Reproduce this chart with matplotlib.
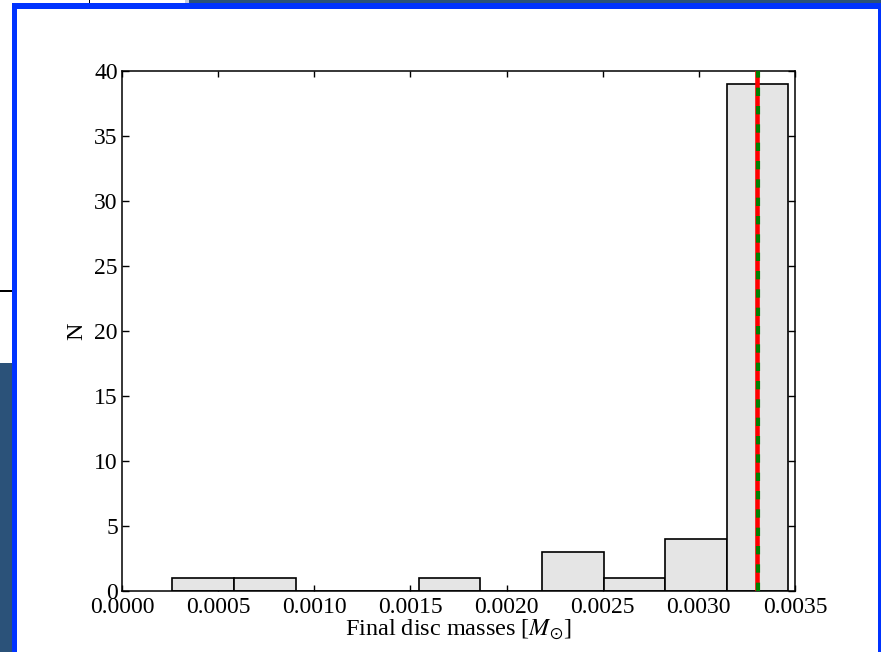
import numpy as np
import matplotlib
matplotlib.use("Agg")
import matplotlib.pyplot as plt
from matplotlib.patches import Rectangle

# Histogram of final disc masses (solar masses)
bin_edges = [0.0002616, 0.0005820, 0.0009024, 0.0012228, 0.0015432,
             0.0018636, 0.0021840, 0.0025044, 0.0028248, 0.0031452, 0.0034656]
counts = [1, 1, 0, 0, 1, 0, 3, 1, 4, 39]

mean_mass = 0.0033000
median_mass = 0.0033078

xticks = [0.0000, 0.0005, 0.0010, 0.0015, 0.0020, 0.0025, 0.0030, 0.0035]
yticks = [0, 5, 10, 15, 20, 25, 30, 35, 40]

plt.rcParams['font.family'] = ['Liberation Serif', 'DejaVu Serif']
plt.rcParams['mathtext.fontset'] = 'stix'

W, H = 881, 652
fig = plt.figure(figsize=(W / 100, H / 100), dpi=100)
fig.patch.set_facecolor('white')


def px_rect(x0, y0, x1, y1, color, z=0):
    """Rectangle given in pixel coords measured from the top-left corner."""
    r = Rectangle((x0 / W, 1 - y1 / H), (x1 - x0) / W, (y1 - y0) / H,
                  transform=fig.transFigure, facecolor=color,
                  edgecolor='none', zorder=z)
    fig.add_artist(r)


# window frame around the plot
dark = '#2b5279'
blue = '#0033ff'
px_rect(189, 0, W, 3, dark)
px_rect(0, 363, 12, H, dark)
px_rect(88.5, 0, 89.7, 3, 'black')
px_rect(0, 290.5, 12, 291.8, 'black')
px_rect(185, 0, 189, 3, '#c8cde0')
px_rect(12, 3, W, 8.5, blue)
px_rect(12, 3, 17, H, blue)
px_rect(877.5, 3, W, H, blue)

ax = fig.add_axes([122 / W, 1 - 591 / H, (795 - 122) / W, (591 - 71) / H])

widths = np.diff(bin_edges)
ax.bar(bin_edges[:-1], counts, width=widths, align='edge',
       facecolor='#e5e5e5', edgecolor='black', linewidth=1.2, zorder=2)

ax.axvline(mean_mass, color='red', linewidth=3.3, zorder=3)
ax.axvline(median_mass, color='green', linewidth=3.0, zorder=4,
           dashes=(2.0, 2.4))

ax.set_xlim(0, 0.0035)
ax.set_ylim(0, 40)
ax.set_xticks(xticks)
ax.set_xticklabels([f"{v:.4f}" for v in xticks])
ax.set_yticks(yticks)

ax.tick_params(axis='both', which='major', direction='in', top=True,
               right=True, labelsize=17, width=1.0, color='black')
ax.tick_params(axis='x', length=4, pad=4)
ax.tick_params(axis='y', length=5, pad=3)
for s in ax.spines.values():
    s.set_linewidth(1.1)

ax.set_xlabel(r'Final disc masses [$M_{\odot}$]', fontsize=17.5, labelpad=0)
ax.set_ylabel('N', fontsize=17.5, labelpad=5)

fig.savefig('out.png', dpi=100)
